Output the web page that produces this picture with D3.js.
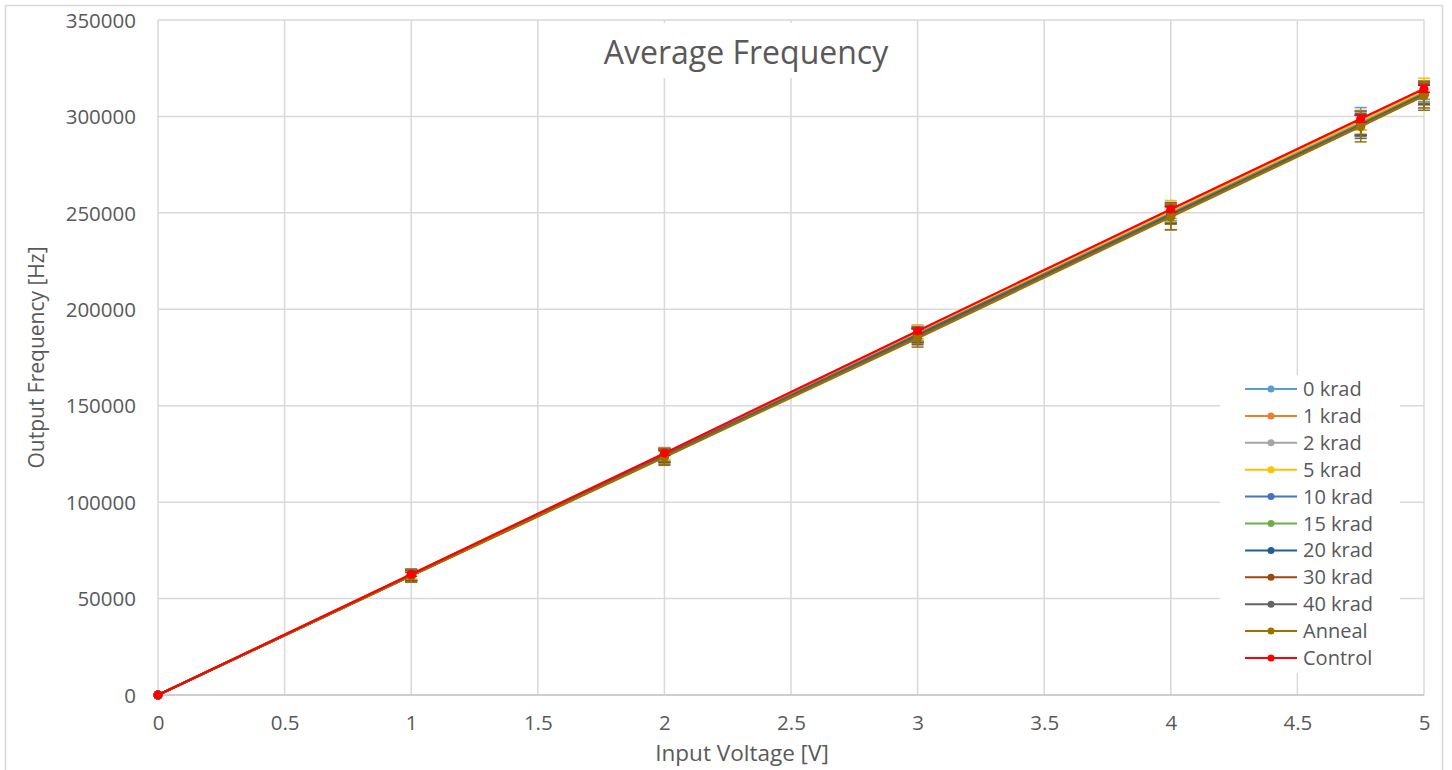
<!DOCTYPE html>
<html>
<head>
<meta charset="utf-8">
<script src="https://cdn.jsdelivr.net/npm/d3@7"></script>
<style>
	body { margin: 0; background: #fff; }
	text { font-family: "Open Sans", sans-serif; fill: #595959; }
</style>
</head>
<body>
<div id="chart"></div>
<script>
// input voltages
const voltages = [0, 1, 2, 3, 4, 4.75, 5];

const seriesNames = ["0 krad", "1 krad", "2 krad", "5 krad", "10 krad", "15 krad", "20 krad", "30 krad", "40 krad", "Anneal", "Control"];
const seriesColors = ["#5B9BD5", "#ED7D31", "#A5A5A5", "#FFC000", "#4472C4", "#70AD47", "#255E91", "#9E480E", "#636363", "#997300", "#FF0000"];

// average frequency [Hz] per series
const freq0 = [0, 62300, 124700, 187600, 250400, 297100, 312800];
const freq1 = [0, 62500, 125100, 188300, 251300, 298100, 313700];
const freq2 = [0, 62200, 124500, 187300, 250000, 296700, 312400];
const freq5 = [0, 62400, 124900, 188000, 250900, 297700, 313300];
const freq10 = [0, 62100, 124300, 187000, 249600, 296200, 312000];
const freq15 = [0, 62000, 124100, 186700, 249200, 295800, 311700];
const freq20 = [0, 61950, 124000, 186500, 249000, 295600, 311500];
const freq30 = [0, 61900, 123800, 186200, 248600, 295300, 311200];
const freq40 = [0, 61850, 123600, 185800, 248200, 295000, 310900];
const freqAnneal = [0, 61800, 123300, 185000, 247800, 294800, 310700];
const freqControl = [0, 62600, 125400, 188800, 251900, 298800, 314300];

// error bar half-widths [Hz]
const err0 = [0, 2800, 3500, 3800, 4500, 7500, 5000];
const err1 = [0, 2500, 3200, 3500, 4200, 5000, 4800];
const err2 = [0, 2600, 3300, 3700, 4400, 6000, 5200];
const err5 = [0, 2400, 3000, 3400, 5500, 4800, 6500];
const err10 = [0, 3200, 3600, 3900, 4600, 6200, 5300];
const err15 = [0, 2500, 3100, 3600, 4300, 5100, 5000];
const err20 = [0, 2700, 3400, 3800, 4500, 5300, 5100];
const err30 = [0, 2600, 3200, 3600, 4400, 5200, 5200];
const err40 = [0, 3100, 3900, 4200, 7000, 6400, 6500];
const errAnneal = [0, 3300, 4200, 4600, 6500, 8000, 7500];
const errControl = [0, 1000, 1200, 1300, 1500, 1800, 1800];

const xTicks = [0, 0.5, 1, 1.5, 2, 2.5, 3, 3.5, 4, 4.5, 5];
const yTicks = [0, 50000, 100000, 150000, 200000, 250000, 300000, 350000];

const allFreq = [freq0, freq1, freq2, freq5, freq10, freq15, freq20, freq30, freq40, freqAnneal, freqControl];
const allErr = [err0, err1, err2, err5, err10, err15, err20, err30, err40, errAnneal, errControl];

const series = seriesNames.map((name, i) => ({
	name: name,
	color: seriesColors[i],
	values: voltages.map((v, j) => ({ x: v, y: allFreq[i][j], e: allErr[i][j] }))
}));

const width = 1452;
const height = 770;
const margin = { left: 158, right: 28, top: 20, bottom: 75 };

const svg = d3.select("#chart")
	.append("svg")
	.attr("width", width)
	.attr("height", height);

// outer chart border
svg.append("rect")
	.attr("x", 5.5).attr("y", 5.5)
	.attr("width", 1437).attr("height", 800)
	.attr("fill", "#fff")
	.attr("stroke", "#d9d9d9")
	.attr("stroke-width", 1.5);

const x = d3.scaleLinear().domain([0, 5]).range([margin.left, width - margin.right]);
const y = d3.scaleLinear().domain([0, 350000]).range([height - margin.bottom, margin.top]);

// gridlines
svg.append("g")
	.selectAll("line.vgrid")
	.data(xTicks)
	.enter()
	.append("line")
	.attr("x1", (d) => x(d)).attr("x2", (d) => x(d))
	.attr("y1", y(350000)).attr("y2", y(0))
	.attr("stroke", "#d9d9d9")
	.attr("stroke-width", 1.5);

svg.append("g")
	.selectAll("line.hgrid")
	.data(yTicks)
	.enter()
	.append("line")
	.attr("x1", x(0)).attr("x2", x(5))
	.attr("y1", (d) => y(d)).attr("y2", (d) => y(d))
	.attr("stroke", (d) => (d === 0 ? "#bfbfbf" : "#d9d9d9"))
	.attr("stroke-width", 1.5);

// axes (labels only)
const xAxis = svg.append("g")
	.attr("transform", `translate(0,${y(0)})`)
	.call(d3.axisBottom(x).tickValues(xTicks).tickSize(0).tickPadding(20).tickFormat(d3.format("")));
const yAxis = svg.append("g")
	.attr("transform", `translate(${x(0)},0)`)
	.call(d3.axisLeft(y).tickValues(yTicks).tickSize(0).tickPadding(22).tickFormat((d) => d));
[xAxis, yAxis].forEach((a) => {
	a.select(".domain").remove();
	a.selectAll("text").style("font-size", "20.5px").style("fill", "#595959").attr("font-family", null);
});
yAxis.selectAll("text").attr("dy", "0.35em");
xAxis.selectAll("text").attr("dy", "0.71em");

// axis titles
svg.append("text")
	.attr("x", 742)
	.attr("y", 761)
	.attr("text-anchor", "middle")
	.style("font-size", "22.5px")
	.text("Input Voltage [V]");

svg.append("text")
	.attr("transform", `translate(44,${(y(0) + y(350000)) / 2}) rotate(-90)`)
	.attr("text-anchor", "middle")
	.style("font-size", "21px")
	.text("Output Frequency [Hz]");

// series
const line = d3.line().x((d) => x(d.x)).y((d) => y(d.y));

const groups = svg.selectAll("g.series")
	.data(series)
	.enter()
	.append("g")
	.attr("class", "series");

groups.append("path")
	.attr("d", (d) => line(d.values))
	.attr("fill", "none")
	.attr("stroke", (d) => d.color)
	.attr("stroke-width", 2.2);

groups.each(function (s) {
	const g = d3.select(this);
	const eb = g.selectAll("g.err")
		.data(s.values.filter((d) => d.e > 0))
		.enter()
		.append("g")
		.attr("stroke", s.color)
		.attr("stroke-width", 1.5);
	eb.append("line")
		.attr("x1", (d) => x(d.x)).attr("x2", (d) => x(d.x))
		.attr("y1", (d) => y(d.y - d.e)).attr("y2", (d) => y(d.y + d.e));
	eb.append("line")
		.attr("x1", (d) => x(d.x) - 6).attr("x2", (d) => x(d.x) + 6)
		.attr("y1", (d) => y(d.y - d.e)).attr("y2", (d) => y(d.y - d.e));
	eb.append("line")
		.attr("x1", (d) => x(d.x) - 6).attr("x2", (d) => x(d.x) + 6)
		.attr("y1", (d) => y(d.y + d.e)).attr("y2", (d) => y(d.y + d.e));
});

groups.selectAll("circle")
	.data((d) => d.values.map((v) => ({ ...v, color: d.color })))
	.enter()
	.append("circle")
	.attr("cx", (d) => x(d.x))
	.attr("cy", (d) => y(d.y))
	.attr("r", 4.5)
	.attr("fill", (d) => d.color);

// title with white box
svg.append("rect")
	.attr("x", 590).attr("y", 23)
	.attr("width", 305).attr("height", 55)
	.attr("fill", "#fff");
svg.append("text")
	.attr("x", 746)
	.attr("y", 64)
	.attr("text-anchor", "middle")
	.style("font-size", "32px")
	.text("Average Frequency");

// legend
const legend = svg.append("g");
legend.append("rect")
	.attr("x", 1220).attr("y", 375)
	.attr("width", 180).attr("height", 298)
	.attr("fill", "#fff");

const rowH = 26.9;
const items = legend.selectAll("g.item")
	.data(series)
	.enter()
	.append("g")
	.attr("transform", (d, i) => `translate(0,${389 + i * rowH})`);

items.append("line")
	.attr("x1", 1245).attr("x2", 1297)
	.attr("stroke", (d) => d.color)
	.attr("stroke-width", 2);
items.append("circle")
	.attr("cx", 1271)
	.attr("r", 3.5)
	.attr("fill", (d) => d.color);
items.append("text")
	.attr("x", 1303)
	.attr("dy", "0.35em")
	.style("font-size", "20px")
	.text((d) => d.name);
</script>
</body>
</html>
